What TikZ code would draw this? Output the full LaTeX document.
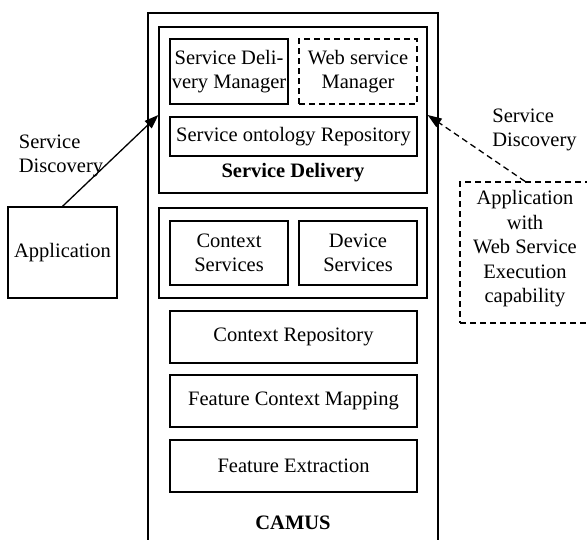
\documentclass[tikz,border=0pt]{standalone}
\usepackage{fontspec}
\setmainfont{Liberation Serif}
\usetikzlibrary{arrows.meta}
\tikzset{
    layer/.style={rectangle,draw,line width=1.3pt,inner sep=0pt,align=center},
    dashlayer/.style={layer,dash pattern=on 6pt off 4pt},
    discover/.style={-{Triangle[length=14pt,width=10pt]},line width=1.3pt},
}

\begin{document}
\begin{tikzpicture}[x=1pt,y=-1pt,font=\fontsize{20.5}{24.5}\selectfont]
\clip (0,0) rectangle (587,539);

% CAMUS frame
\node[layer, minimum width = 290pt, minimum height = 547pt] (camus) at (293,286.5) {};
\node[font=\fontsize{20.5}{24.5}\selectfont\bfseries] (camuslbl) at (293,523) {CAMUS};

% service delivery layer
\node[layer, minimum width = 268pt, minimum height = 166pt] (sd) at (293,110) {};
\node[layer, minimum width = 118pt, minimum height = 65pt] (sdm) at (229,71.5) {Service Deli-\\very Manager};
\node[dashlayer, minimum width = 118pt, minimum height = 65pt] (wsm) at (358,71.5) {Web service\\Manager};
\node[layer, minimum width = 247pt, minimum height = 39pt] (sor) at (293.5,136.5) {Service ontology Repository};
\node[font=\fontsize{20.5}{24.5}\selectfont\bfseries] (sdlbl) at (293,173) {Service Delivery};

% services layer
\node[layer, minimum width = 268pt, minimum height = 90pt] (svc) at (293,253) {};
\node[layer, minimum width = 118pt, minimum height = 64pt] (cs) at (229,253) {Context\\Services};
\node[layer, minimum width = 118pt, minimum height = 64pt] (ds) at (358,253) {Device\\Services};

% lower layers
\node[layer, minimum width = 247pt, minimum height = 52pt] (cr) at (293.5,337) {Context Repository};
\node[layer, minimum width = 247pt, minimum height = 52pt] (fcm) at (293.5,401) {Feature Context Mapping};
\node[layer, minimum width = 247pt, minimum height = 52pt] (fe) at (293.5,466) {Feature Extraction};

% applications
\node[layer, minimum width = 109pt, minimum height = 91pt] (app) at (62.5,252.5) {Application};
\node[dashlayer, minimum width = 130pt, minimum height = 141pt, text depth=12pt] (wapp) at (525,252.5) {Application\\with\\Web Service\\Execution\\capability};

\draw[discover] (app.north)--([yshift=-5pt]sd.west);
\draw[discover, dash pattern=on 6pt off 4pt] (wapp.north)--([yshift=-5pt]sd.east);
\node[align=left] (disc1) at (61,156) {Service\\Discovery};
\node[align=left] (disc2) at (534.5,130) {Service\\Discovery};
\end{tikzpicture}
\end{document}
